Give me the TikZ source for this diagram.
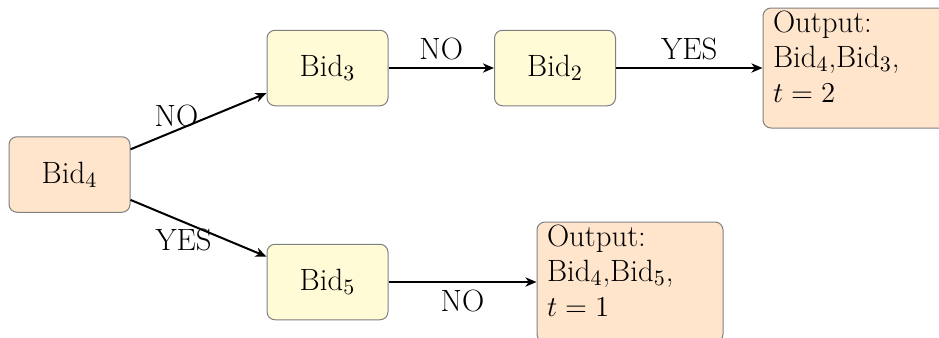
\documentclass[tikz,border=0pt]{standalone}
\usepackage{fontspec}
\usetikzlibrary{arrows.meta}

\definecolor{bidpeach}{rgb}{1,0.898,0.8}
\definecolor{bidcream}{RGB}{255,251,215}

\tikzset{
  boxbase/.style={draw=black!50, line width=0.5pt, rounded corners=4pt},
  bidnode/.style={boxbase, fill=bidcream, minimum width=60.5pt, minimum height=37.75pt},
  rootnode/.style={bidnode, fill=bidpeach},
  outnode/.style={boxbase, fill=bidpeach, align=left, text width=83pt,
    inner xsep=5pt, inner ysep=0pt, text height=12pt, text depth=48pt},
  flow/.style={line width=1pt, -{Stealth[length=5.5pt, width=4.6pt, inset=1.6pt]}},
}

\begin{document}
\begin{tikzpicture}[x=0.5pt, y=-0.5pt, font=\fontsize{15.4}{17.5}\selectfont]
  \useasboundingbox (0,0) rectangle (939,338);

  % decision nodes
  \node[rootnode] (b4) at (69.5,174.5) {Bid$_4$};
  \node[bidnode]  (b3) at (327.5,68)   {Bid$_3$};
  \node[bidnode]  (b2) at (555,68)     {Bid$_2$};
  \node[bidnode]  (b5) at (327.5,282)  {Bid$_5$};

  % results
  \node[outnode] (o1) at (856,68)  {Output:\\Bid$_4$,Bid$_3$,\\$t=2$};
  \node[outnode] (o2) at (630,282) {Output:\\Bid$_4$,Bid$_5$,\\$t=1$};

  % branches
  \draw[flow] (b4) -- node[midway, xshift=-11pt, yshift=2.65pt] {NO} (b3);
  \draw[flow] (b4) -- node[midway, xshift=-7.5pt, yshift=-6.1pt] {YES} (b5);
  \draw[flow] (b3) -- node[midway, above] {NO} (b2);
  \draw[flow] (b2) -- node[midway, above] {YES} (o1);
  \draw[flow] (b5) -- node[midway, below] {NO} (o2);
\end{tikzpicture}
\end{document}
